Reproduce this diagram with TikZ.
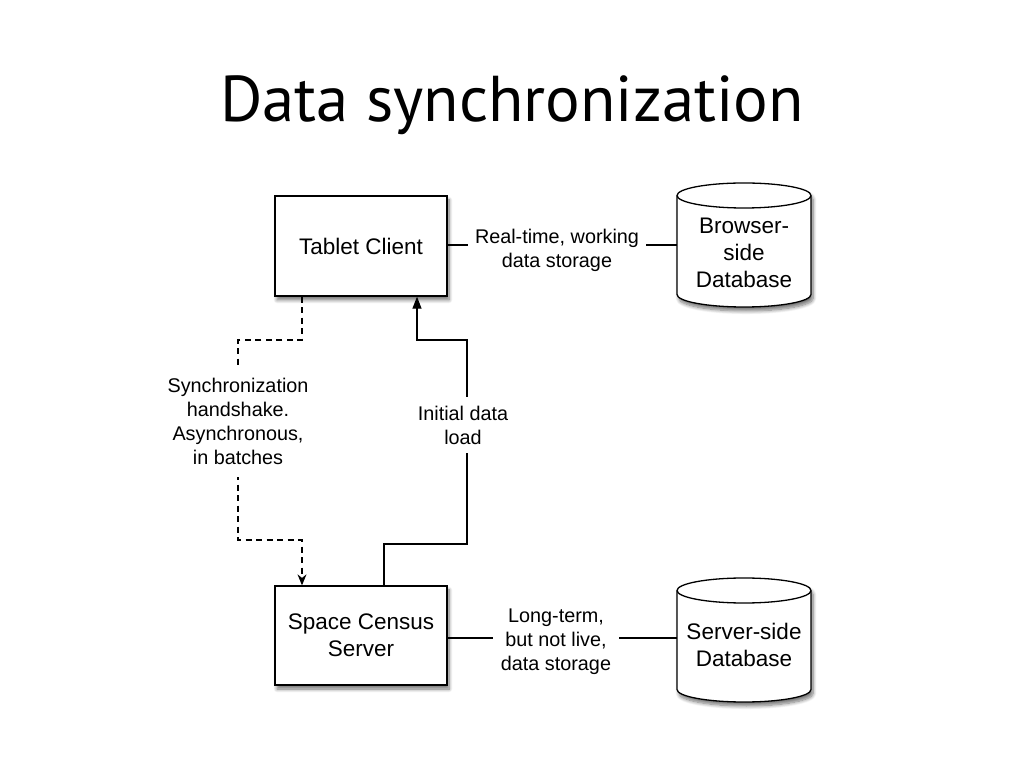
\documentclass[tikz,border=0pt]{standalone}
\usepackage{fontspec}
\setmainfont{Liberation Sans}
\newfontfamily\titlefont{PT Sans}
\usetikzlibrary{shadows.blur,arrows.meta,backgrounds}
\begin{document}
\begin{tikzpicture}[x=1pt,y=1pt,
  shad/.style={blur shadow={shadow xshift=2pt, shadow yshift=-4pt, shadow blur steps=8, shadow blur radius=3.5pt, shadow opacity=55}},
  box/.style={draw, line width=1.3pt, fill=white, minimum width=172pt, minimum height=100pt,
    align=center, font=\fontsize{22.5}{27}\selectfont, shad},
  dbtext/.style={minimum width=134pt, minimum height=124pt, align=center, inner sep=0pt,
    font=\fontsize{22.5}{27}\selectfont},
  cyl/.style={draw, line width=1.3pt, fill=white},
  lbl/.style={fill=white, align=center, font=\fontsize{19.8}{24}\selectfont, inner xsep=7.5pt, inner ysep=2pt},
  conn/.style={line width=1.2pt},
  dconn/.style={line width=1.2pt, dash pattern=on 6pt off 4.5pt}
]
\useasboundingbox (0,0) rectangle (1024,768);
\node[anchor=base] (title) at (512,646) {\resizebox{583pt}{!}{\titlefont Data synchronization}};

\node[box] (tablet) at (361,522) {Tablet Client};
\node[box, minimum height=99pt] (server) at (361,132.5) {Space Census\\Server};
\node[dbtext] (bdb) at (744,515) {Browser-\\side\\Database};
\node[dbtext] (sdb) at (744,123) {Server-side\\Database};

% cylinder outlines behind the database texts
\begin{scope}[on background layer]
  \foreach \cx/\cy in {744/523,744/128}{
    \begin{scope}[shift={(\cx,\cy)}]
      \path[cyl, shad] (-67,49.5) -- (-67,-49.5)
        arc[start angle=180, end angle=360, x radius=67, y radius=12.5]
        -- (67,49.5)
        arc[start angle=0, end angle=180, x radius=67, y radius=12.5] -- cycle;
      \draw[line width=1.3pt] (-67,49.5) arc[start angle=180, end angle=360, x radius=67, y radius=12.5];
    \end{scope}
  }
\end{scope}

% horizontal connectors
\draw[conn] ([yshift=1pt]tablet.east) -- ([yshift=1pt]tablet.east -| bdb.west);
\node[lbl] (lrt) at (557,518) {Real-time, working\\data storage};
\draw[conn] ([yshift=-2.5pt]server.east) -- ([yshift=-2.5pt]server.east -| sdb.west);
\node[lbl] (llt) at (556,126.5) {Long-term,\\but not live,\\data storage};

% dashed synchronization path
\coordinate (d1) at (302,428);
\coordinate (d2) at (238,428);
\coordinate (d3) at (238,228);
\coordinate (d4) at (302,228);
\draw[dconn, -{Stealth[length=11pt,width=9pt]}] (d1 |- tablet.south) -- (d1) -- (d2) -- (d3) -- (d4) -- (d4 |- server.north);
\node[lbl, inner xsep=3pt, inner ysep=12pt] (lsync) at (238,346.5) {Synchronization\\handshake.\\Asynchronous,\\in batches};

% solid initial load path
\coordinate (s1) at (384,224);
\coordinate (s2) at (467,224);
\coordinate (s3) at (467,428);
\coordinate (s4) at (417,428);
\draw[conn, -{Triangle[length=12pt,width=9pt]}] (s1 |- server.north) -- (s1) -- (s2) -- (s3) -- (s4) -- (s4 |- tablet.south);
\node[lbl, inner xsep=3pt, inner ysep=9pt] (linit) at (463,343) {Initial data\\load};
\end{tikzpicture}
\end{document}
